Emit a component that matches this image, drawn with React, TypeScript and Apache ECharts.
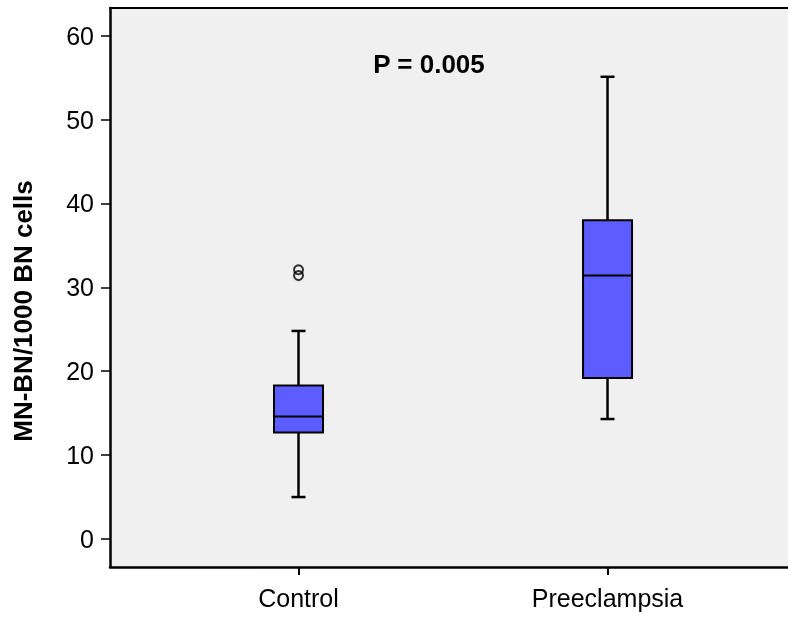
import React, { useEffect, useRef } from "react";
import * as echarts from "echarts";

const categories = ["Control", "Preeclampsia"];
// [min, Q1, median, Q3, max]
const boxStats = [
  [5.0, 12.7, 14.6, 18.3, 24.8],
  [14.3, 19.2, 31.4, 38.0, 55.1],
];
// [category index, value]
const outliers = [
  [0, 32.1],
  [0, 31.4],
];
const yTicks = [0, 10, 20, 30, 40, 50, 60];
const yTitle = "MN-BN/1000 BN cells";
const pLabel = "P = 0.005";

const FONT = "'Liberation Sans', Arial, sans-serif";
const X_MIN = 0.39;
const X_MAX = 2.584;

export default function App() {
  const ref = useRef<HTMLDivElement>(null);
  useEffect(() => {
    if (!ref.current) return;
    const chart = echarts.init(ref.current, null, { renderer: "svg" });
    const catPos = categories.map((_, i) => i + 1);
    const boxData = boxStats.map((s, i) => [catPos[i], ...s]);
    const outData = outliers.map(([i, v]) => [catPos[i], v]);

    chart.setOption({
      animation: false,
      grid: {
        left: 110,
        top: 8,
        right: 0,
        height: 559,
        show: true,
        backgroundColor: "#f0f0f0",
        borderWidth: 0,
        outerBoundsMode: "none",
      },
      xAxis: [
        {
          type: "value",
          min: X_MIN,
          max: X_MAX,
          splitLine: { show: false },
          axisLine: { show: true, onZero: false, lineStyle: { color: "#000", width: 2.5 } },
          axisTick: {
            show: true,
            customValues: catPos,
            length: 8,
            lineStyle: { color: "#000", width: 2 },
          },
          axisLabel: {
            customValues: catPos,
            formatter: (v: number) => categories[Math.round(v) - 1] ?? "",
            color: "#000",
            fontFamily: FONT,
            fontSize: 25,
            margin: 18,
          },
        },
        {
          type: "value",
          position: "top",
          min: X_MIN,
          max: X_MAX,
          splitLine: { show: false },
          axisLine: { show: true, onZero: false, lineStyle: { color: "#000", width: 2 } },
          axisTick: { show: false },
          axisLabel: { show: false },
        },
      ],
      yAxis: {
        type: "value",
        min: -3.34,
        max: 63.3,
        splitLine: { show: false },
        axisLine: { show: true, onZero: false, lineStyle: { color: "#000", width: 2.5 } },
        axisTick: {
          show: true,
          customValues: yTicks,
          length: 9,
          lineStyle: { color: "#000", width: 1.5 },
        },
        axisLabel: {
          customValues: yTicks,
          color: "#000",
          fontFamily: FONT,
          fontSize: 25,
          margin: 16,
        },
      },
      series: [
        {
          type: "custom",
          data: boxData,
          encode: { x: 0, y: [1, 2, 3, 4, 5] },
          renderItem: (params: any, api: any) => {
            const x = api.value(0);
            const pMin = api.coord([x, api.value(1)]);
            const pQ1 = api.coord([x, api.value(2)]);
            const pMed = api.coord([x, api.value(3)]);
            const pQ3 = api.coord([x, api.value(4)]);
            const pMax = api.coord([x, api.value(5)]);
            const cx = pMin[0];
            const bw = 49;
            const cw = 14;
            const ls = { stroke: "#000", lineWidth: 2.5 };
            return {
              type: "group",
              children: [
                { type: "line", shape: { x1: cx, y1: pMax[1], x2: cx, y2: pQ3[1] }, style: ls },
                { type: "line", shape: { x1: cx, y1: pQ1[1], x2: cx, y2: pMin[1] }, style: ls },
                { type: "line", shape: { x1: cx - cw / 2, y1: pMax[1], x2: cx + cw / 2, y2: pMax[1] }, style: ls },
                { type: "line", shape: { x1: cx - cw / 2, y1: pMin[1], x2: cx + cw / 2, y2: pMin[1] }, style: ls },
                {
                  type: "rect",
                  shape: { x: cx - bw / 2, y: pQ3[1], width: bw, height: pQ1[1] - pQ3[1] },
                  style: { fill: "#5c5cff", stroke: "#000", lineWidth: 2 },
                },
                { type: "line", shape: { x1: cx - bw / 2, y1: pMed[1], x2: cx + bw / 2, y2: pMed[1] }, style: { stroke: "#000", lineWidth: 2 } },
              ],
            };
          },
        },
        {
          type: "scatter",
          data: outData,
          symbol: "circle",
          symbolSize: 9,
          itemStyle: { color: "rgba(0,0,0,0)", borderColor: "#000", borderWidth: 2 },
        },
      ],
      graphic: [
        {
          type: "text",
          x: 429,
          y: 64,
          style: {
            text: pLabel,
            font: `bold 26px ${FONT}`,
            fill: "#000",
            align: "center",
            verticalAlign: "middle",
          },
        },
        {
          type: "text",
          x: 23,
          y: 311,
          rotation: Math.PI / 2,
          style: {
            text: yTitle,
            font: `bold 26px ${FONT}`,
            fill: "#000",
            align: "center",
            verticalAlign: "middle",
          },
        },
      ],
    });
    return () => chart.dispose();
  }, []);
  return (
    <div
      ref={ref}
      style={{ position: "fixed", left: 0, top: 0, width: 788, height: 617 }}
    />
  );
}
